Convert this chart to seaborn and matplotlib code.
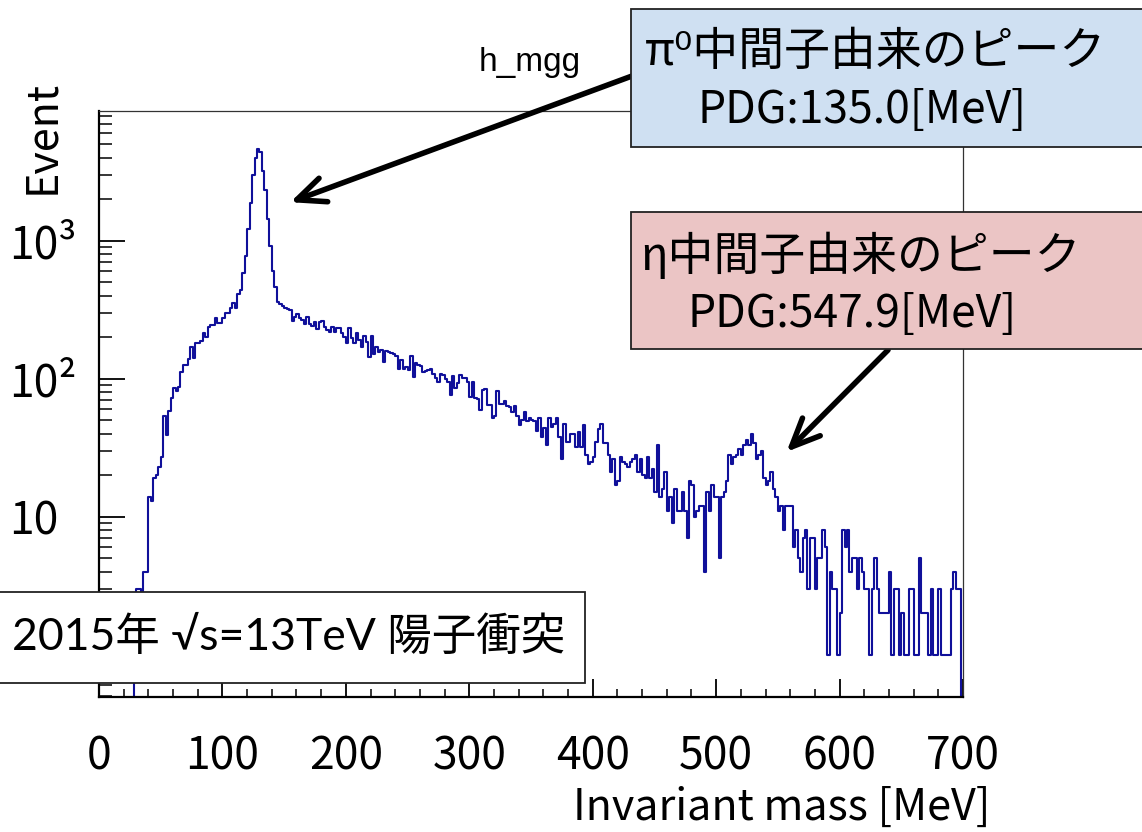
import numpy as np
import pandas as pd
import matplotlib
matplotlib.use("Agg")
import matplotlib.pyplot as plt
import seaborn as sns
from matplotlib.patches import Rectangle
from matplotlib.ticker import NullFormatter, LogLocator, MultipleLocator

# ---------------- data (2 MeV bins, 0-700 MeV) ----------------
bin_edges_range = (0, 700)
bin_width = 2

counts_000_071 = [0] * 14 + [
    2, 3, 3, 2, 4, 4,
    14, 13, 19, 20, 23, 27, 54, 39, 58, 73,
    85, 81, 87, 112, 126, 126, 139, 169, 142, 181,
    181, 186, 215, 200, 238, 244, 244, 276, 252, 252,
    275, 298, 298, 324, 355, 324, 411, 440, 581, 778,
    1216, 1866, 2990, 4000, 4600, 4400, 3200, 2330, 1430, 916,
    606, 464]
counts_072_121 = [
    361, 348, 336, 324, 318, 315, 263, 278, 294, 274,
    266, 248, 281, 248, 241, 256, 229, 259, 263, 238,
    225, 219, 238, 219, 232, 234, 213, 201, 182, 232,
    196, 180, 213, 190, 171, 204, 185, 144, 204, 151,
    169, 157, 161, 133, 159, 157, 154, 151, 146, 117]
counts_122_182 = [
    137, 117, 121, 116, 146, 103, 131, 126, 124, 112,
    114, 116, 118, 109, 102, 94, 109, 106, 99, 94,
    76, 105, 85, 93, 106, 102, 101, 95, 74, 95,
    73, 71, 59, 83, 84, 64, 64, 52, 54, 82,
    66, 66, 69, 63, 62, 57, 63, 54, 46, 50,
    57, 49, 52, 50, 49, 42, 52, 38, 44, 33, 52]
counts_183_242 = [
    45, 47, 52, 38, 26, 47, 35, 35, 40, 40,
    32, 41, 32, 46, 28, 24, 25, 27, 35, 43,
    47, 34, 34, 28, 21, 26, 17, 18, 27, 25,
    24, 23, 25, 26, 28, 21, 26, 20, 19, 27,
    19, 22, 15, 33, 14, 16, 21, 11, 14, 9,
    16, 11, 11, 15, 11, 7, 18, 17, 10, 11]
counts_243_295 = [
    12, 12, 4, 15, 11, 17, 14, 14, 5, 14,
    15, 18, 28, 24, 27, 28, 31, 28, 33, 36,
    33, 40, 34, 26, 28, 30, 19, 17, 18, 21,
    16, 14, 11, 12, 8, 12, 12, 12, 6, 8,
    5, 4, 7, 8, 3, 7, 7, 3, 5, 5,
    8, 6, 1]
counts_296_349 = [
    4, 3, 3, 1, 2, 8, 6, 8, 4, 5,
    5, 3, 5, 4, 3, 3, 1, 3, 5, 3,
    2, 2, 2, 2, 4, 1, 3, 3, 1, 2,
    1, 1, 3, 3, 1, 1, 5, 2, 2, 2,
    1, 3, 1, 1, 3, 1, 1, 1, 1, 3,
    4, 3, 3, 0]

counts = (counts_000_071 + counts_072_121 + counts_122_182 +
          counts_183_242 + counts_243_295 + counts_296_349)

x_ticks = [0, 100, 200, 300, 400, 500, 600, 700]
y_ticks = [10, 100, 1000]
y_tick_labels = ["10", "10²", "10³"]

centers = [bin_edges_range[0] + bin_width * (i + 0.5) for i in range(len(counts))]
df = pd.DataFrame({"mass": centers, "events": counts})

# ---------------- style ----------------
sns.set_theme(style="ticks")
plt.rcParams["font.family"] = ["Noto Sans CJK JP", "DejaVu Sans"]
plt.rcParams["text.color"] = "black"
plt.rcParams["axes.labelcolor"] = "black"
plt.rcParams["xtick.color"] = "black"
plt.rcParams["ytick.color"] = "black"

W, H = 1142, 832
fig = plt.figure(figsize=(W / 100, H / 100), dpi=100)
ax = fig.add_axes([99 / W, 1 - 697 / H, 864 / W, 586 / H])

sns.histplot(data=df, x="mass", weights="events", binwidth=bin_width,
             binrange=bin_edges_range,
             element="step", fill=False, color="#10109a",
             linewidth=1.5, ax=ax)
ax.set_yscale("log")
ax.set_xlim(0, 700)
ax.set_ylim(0.494, 8700)
ax.set_xlabel("")
ax.set_ylabel("")

# spines
for s in ["left", "bottom"]:
    ax.spines[s].set_linewidth(1.6)
    ax.spines[s].set_color("black")
for s in ["top", "right"]:
    ax.spines[s].set_linewidth(0.9)
    ax.spines[s].set_color("#333333")

# x ticks
ax.set_xticks(x_ticks)
ax.xaxis.set_minor_locator(MultipleLocator(20))
ax.tick_params(axis="x", which="major", direction="in", length=13, width=1.3,
               bottom=True, top=False, labelsize=32, pad=26, colors="black")
ax.tick_params(axis="x", which="minor", direction="in", length=6, width=1.1,
               bottom=True, top=False)

# y ticks (the "1" label sits under the legend box in the reference)
ax.set_yticks(y_ticks, labels=y_tick_labels, ha="left")
ax.yaxis.set_minor_locator(LogLocator(base=10, subs=np.arange(2, 10) * 1.0, numticks=30))
ax.yaxis.set_minor_formatter(NullFormatter())
ax.tick_params(axis="y", which="major", direction="in", length=19, width=1.3,
               left=True, right=False, labelsize=32, pad=65, colors="black")
ax.tick_params(axis="y", which="minor", direction="in", length=9, width=1.1,
               left=True, right=False)

# axis titles
fig.text(42 / W, 1 - 137 / H, "Event", rotation=90, ha="center", va="center", fontsize=31)
fig.text(990 / W, 1 - 808 / H, "Invariant mass [MeV]", ha="right", va="center", fontsize=31)
fig.text(530 / W, 1 - 62 / H, "h_mgg", ha="center", va="center", fontsize=24,
         family=["Liberation Sans", "DejaVu Sans"])

# arrows
arrow_kw = dict(arrowstyle="->,head_length=1.7,head_width=0.75", lw=4.0, color="black",
                shrinkA=0, shrinkB=0)
ax.annotate("", xy=(155, 1900), xycoords="data", xytext=(632, H - 76),
            textcoords="figure pixels", arrowprops=arrow_kw, annotation_clip=False)
ax.annotate("", xy=(557, 29.5), xycoords="data", xytext=(888, H - 350),
            textcoords="figure pixels", arrowprops=arrow_kw, annotation_clip=False)

# boxes
def box(x0, y0, x1, y1, fc):
    fig.add_artist(Rectangle((x0 / W, 1 - y1 / H), (x1 - x0) / W, (y1 - y0) / H,
                             transform=fig.transFigure, facecolor=fc,
                             edgecolor="#222222", lw=1.3, zorder=5))

box(631, 9, 1150, 147, "#cfe0f2")
box(631, 212, 1150, 349, "#ebc5c5")
box(-5, 592, 585, 683, "white")

fig.text(645 / W, 1 - 52 / H, "π⁰中間子由来のピーク", ha="left", va="center", fontsize=33, zorder=6)
fig.text(697 / W, 1 - 110 / H, "PDG:135.0[MeV]", ha="left", va="center", fontsize=32, zorder=6)
fig.text(640 / W, 1 - 257 / H, "η中間子由来のピーク", ha="left", va="center", fontsize=33, zorder=6)
fig.text(688 / W, 1 - 314 / H, "PDG:547.9[MeV]", ha="left", va="center", fontsize=32, zorder=6)
fig.text(12 / W, 1 - 637 / H, "2015年 √s=13TeV 陽子衝突", ha="left", va="center",
         fontsize=32, zorder=6, family=["Lato", "Noto Sans CJK JP", "DejaVu Sans"])

fig.savefig("out.png", dpi=100)
